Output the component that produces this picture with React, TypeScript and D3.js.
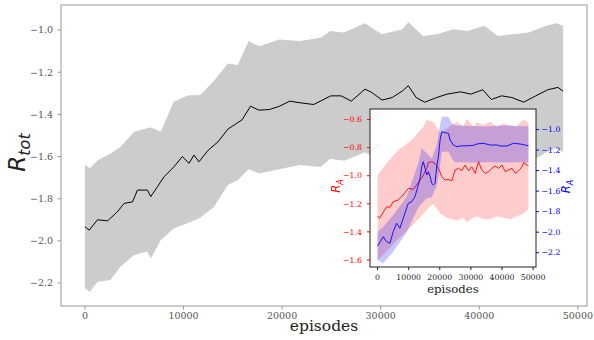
import React from "react";
import * as d3 from "d3";

// ---------- main chart data ----------
const mainEpisodes = [0, 440, 1280, 2300, 3300, 3980, 4830, 5330, 6340, 6680, 7360, 8030, 9040, 9890, 10560, 11060, 11570, 12500, 13500, 14500, 15930, 16800, 17660, 18700, 19750, 20780, 21820, 23210, 24940, 25980, 27020, 28410, 29100, 30140, 31170, 32220, 32800, 33600, 34460, 35680, 36720, 38100, 39150, 40350, 41220, 42260, 43300, 44510, 45730, 46940, 47980, 48500];
const mainMean = [-1.933, -1.949, -1.9, -1.905, -1.862, -1.822, -1.815, -1.759, -1.759, -1.79, -1.743, -1.696, -1.648, -1.6, -1.632, -1.593, -1.625, -1.57, -1.53, -1.47, -1.426, -1.361, -1.38, -1.377, -1.361, -1.337, -1.345, -1.353, -1.312, -1.312, -1.337, -1.28, -1.296, -1.332, -1.32, -1.288, -1.264, -1.32, -1.342, -1.32, -1.304, -1.293, -1.304, -1.283, -1.329, -1.312, -1.32, -1.342, -1.312, -1.283, -1.272, -1.29];

const bandEpisodes = [0, 500, 1300, 2600, 3600, 5000, 6300, 6700, 7700, 9000, 10400, 11700, 13100, 14500, 15500, 16600, 17700, 19700, 21800, 23900, 24900, 26300, 28400, 30100, 32200, 32800, 34300, 35700, 37400, 38800, 40500, 41900, 43300, 45000, 46800, 47800, 48500];
const bandUpper = [-1.64, -1.656, -1.617, -1.585, -1.555, -1.482, -1.466, -1.462, -1.482, -1.34, -1.31, -1.308, -1.24, -1.158, -1.166, -1.052, -1.077, -1.045, -1.052, -1.036, -1.004, -1.012, -0.968, -1.02, -0.996, -0.963, -1.028, -1.02, -0.996, -1.004, -0.98, -1.028, -1.02, -1.012, -0.98, -0.968, -0.98];
const bandLower = [-2.225, -2.241, -2.194, -2.186, -2.123, -2.067, -2.051, -2.083, -1.996, -1.941, -1.917, -1.89, -1.838, -1.735, -1.712, -1.66, -1.68, -1.66, -1.64, -1.65, -1.61, -1.62, -1.58, -1.62, -1.59, -1.56, -1.63, -1.61, -1.59, -1.6, -1.58, -1.62, -1.61, -1.63, -1.58, -1.56, -1.58];

const mainXTicks = [0, 10000, 20000, 30000, 40000, 50000];
const mainYTicks = [-2.2, -2.0, -1.8, -1.6, -1.4, -1.2, -1.0];

// ---------- inset data ----------
const redEpisodes = [0, 600, 1300, 2900, 3970, 5030, 6650, 8260, 9870, 11480, 12580, 13650, 14190, 15260, 15800, 16320, 17420, 18480, 19550, 20650, 21710, 22800, 23870, 24940, 26000, 27100, 28160, 29230, 30300, 31390, 32450, 33500, 34600, 35700, 36770, 37800, 38900, 40000, 41060, 42150, 43230, 44290, 45400, 46450, 46970, 48060, 48500];
const redMean = [-1.287, -1.303, -1.28, -1.221, -1.225, -1.185, -1.173, -1.137, -1.09, -1.097, -1.066, -1.031, -1.018, -0.972, -0.947, -0.907, -0.9, -0.912, -0.947, -1.007, -1.031, -1.026, -1.036, -0.959, -0.947, -0.964, -0.924, -0.964, -0.936, -0.983, -0.9, -0.959, -0.983, -0.972, -0.947, -0.931, -0.947, -0.924, -0.972, -0.959, -0.947, -0.983, -0.964, -0.936, -0.907, -0.924, -0.93];

const redBandEpisodes = [0, 2900, 6650, 10970, 14740, 15800, 17900, 20220, 22300, 25450, 27600, 28700, 30800, 31900, 34100, 36200, 38300, 40500, 42600, 44700, 46800, 48000, 48500];
const redBandUpper = [-0.995, -0.912, -0.817, -0.746, -0.651, -0.604, -0.616, -0.698, -0.663, -0.616, -0.651, -0.592, -0.651, -0.62, -0.639, -0.616, -0.651, -0.63, -0.64, -0.651, -0.6, -0.616, -0.62];
const redBandLower = [-1.6, -1.54, -1.45, -1.36, -1.27, -1.24, -1.2, -1.27, -1.3, -1.32, -1.3, -1.33, -1.3, -1.29, -1.31, -1.31, -1.29, -1.3, -1.31, -1.29, -1.27, -1.25, -1.232];

const blueEpisodes = [0, 900, 1800, 2900, 3970, 5030, 6130, 7190, 8260, 9350, 9870, 10970, 12030, 13100, 13650, 14190, 14710, 15260, 15800, 16320, 16900, 17420, 17950, 18480, 19030, 19550, 20100, 20650, 21710, 22770, 23320, 24390, 25450, 26500, 28700, 30800, 32000, 34060, 36200, 38300, 39400, 41600, 43700, 45900, 48500];
const blueMean = [-2.134, -2.092, -2.044, -2.092, -2.108, -1.995, -1.913, -1.962, -1.865, -1.767, -1.719, -1.703, -1.654, -1.54, -1.475, -1.362, -1.313, -1.378, -1.443, -1.411, -1.46, -1.524, -1.54, -1.524, -1.362, -1.265, -1.102, -1.021, -1.031, -1.037, -1.102, -1.151, -1.167, -1.16, -1.158, -1.155, -1.14, -1.134, -1.151, -1.15, -1.161, -1.16, -1.134, -1.141, -1.158];

const blueBandEpisodes = [0, 1800, 5030, 9350, 13100, 14190, 15800, 17420, 19030, 20100, 20650, 22770, 23870, 24940, 26500, 30000, 35000, 40000, 45000, 48500];
const blueBandUpper = [-1.995, -1.95, -1.833, -1.654, -1.329, -1.183, -1.232, -1.281, -1.15, -0.95, -0.875, -0.875, -0.94, -0.96, -0.96, -0.965, -0.97, -0.96, -0.965, -0.97];
const blueBandLower = [-2.27, -2.303, -2.19, -2.0, -1.76, -1.72, -1.67, -1.66, -1.55, -1.35, -1.216, -1.216, -1.281, -1.32, -1.318, -1.322, -1.318, -1.322, -1.318, -1.322];

const insetXTicks = [0, 10000, 20000, 30000, 40000, 50000];
const insetLeftTicks = [-1.6, -1.4, -1.2, -1.0, -0.8, -0.6];
const insetRightTicks = [-2.2, -2.0, -1.8, -1.6, -1.4, -1.2, -1.0];

const fmt = (v: number) => (v < 0 ? "\u2212" : "") + Math.abs(v).toFixed(1);
const SERIF = "DejaVu Serif";

export default function App() {
  const W = 594, H = 340;
  // main axes
  const mL = 61, mR = 587, mT = 5, mB = 306;
  const x = d3.scaleLinear().domain([-2425, 50925]).range([mL, mR]);
  const y = d3.scaleLinear().domain([-2.309, -0.881]).range([mB, mT]);

  const bandArea = d3.area<number>()
    .x((_, i) => x(bandEpisodes[i]))
    .y0((_, i) => y(bandLower[i]))
    .y1((_, i) => y(bandUpper[i]));
  const meanLine = d3.line<number>()
    .x((_, i) => x(mainEpisodes[i]))
    .y((d) => y(d));

  // inset axes
  const iL = 370, iR = 536, iT = 109, iB = 267;
  const ix = d3.scaleLinear().domain([-2425, 50925]).range([iL, iR]);
  const iyL = d3.scaleLinear().domain([-1.65, -0.525]).range([iB, iT]);
  const iyR = d3.scaleLinear().domain([-2.339, -0.8]).range([iB, iT]);

  const redArea = d3.area<number>()
    .x((_, i) => ix(redBandEpisodes[i]))
    .y0((_, i) => iyL(redBandLower[i]))
    .y1((_, i) => iyL(redBandUpper[i]));
  const redLine = d3.line<number>()
    .x((_, i) => ix(redEpisodes[i]))
    .y((d) => iyL(d));
  const blueArea = d3.area<number>()
    .x((_, i) => ix(blueBandEpisodes[i]))
    .y0((_, i) => iyR(blueBandLower[i]))
    .y1((_, i) => iyR(blueBandUpper[i]));
  const blueLine = d3.line<number>()
    .x((_, i) => ix(blueEpisodes[i]))
    .y((d) => iyR(d));

  const spine = "#999";
  const tickText = "#555";

  return (
    <svg width={W} height={H} style={{ position: "absolute", left: 0, top: 0, background: "#fff" }}>
      <rect x={0} y={0} width={W} height={H} fill="#fff" />
      {/* main band & line */}
      <path d={bandArea(bandUpper) || ""} fill="#cccccc" />
      <path d={meanLine(mainMean) || ""} fill="none" stroke="#000" strokeWidth={1} />
      {/* main frame */}
      <rect x={mL} y={mT} width={mR - mL} height={mB - mT} fill="none" stroke={spine} strokeWidth={1} />
      {mainXTicks.map((t) => (
        <g key={"mx" + t}>
          <line x1={x(t)} x2={x(t)} y1={mB} y2={mB + 3.5} stroke={spine} />
          <text x={x(t)} y={318.5} textAnchor="middle" fontFamily={SERIF} fontSize={9.5} fill={tickText}>{t}</text>
        </g>
      ))}
      {mainYTicks.map((t) => (
        <g key={"my" + t}>
          <line x1={mL - 3.5} x2={mL} y1={y(t)} y2={y(t)} stroke={spine} />
          <text x={53} y={y(t)} dy="0.35em" textAnchor="end" fontFamily={SERIF} fontSize={9.5} fill={tickText}>{fmt(t)}</text>
        </g>
      ))}
      <text x={(mL + mR) / 2} y={331} textAnchor="middle" fontFamily={SERIF} fontSize={15.5} fill="#222">episodes</text>
      <text transform={`translate(25,152.5) rotate(-90)`} textAnchor="middle" fontFamily="DejaVu Sans" fontStyle="italic" fill="#222">
        <tspan fontSize={23}>R</tspan>
        <tspan fontSize={16} dy={4.5}>tot</tspan>
      </text>

      {/* inset */}
      <rect x={iL} y={iT} width={iR - iL} height={iB - iT} fill="#fff" />
      <path d={redArea(redBandUpper) || ""} fill="rgba(255,0,0,0.2)" />
      <path d={redLine(redMean) || ""} fill="none" stroke="#ff0000" strokeWidth={0.9} />
      <path d={blueArea(blueBandUpper) || ""} fill="rgba(0,0,255,0.22)" />
      <path d={blueLine(blueMean) || ""} fill="none" stroke="#0000ff" strokeWidth={0.9} />
      <rect x={iL} y={iT} width={iR - iL} height={iB - iT} fill="none" stroke="#222" strokeWidth={1} />
      {insetXTicks.map((t) => (
        <g key={"ix" + t}>
          <line x1={ix(t)} x2={ix(t)} y1={iB} y2={iB + 3} stroke="#222" />
          <text x={ix(t)} y={279.5} textAnchor="middle" fontFamily={SERIF} fontSize={7.8} fill="#222">{t}</text>
        </g>
      ))}
      {insetLeftTicks.map((t) => (
        <g key={"il" + t}>
          <line x1={iL - 3} x2={iL} y1={iyL(t)} y2={iyL(t)} stroke="#ff0000" />
          <text x={362} y={iyL(t)} dy="0.35em" textAnchor="end" fontFamily={SERIF} fontSize={7.8} fill="#ff0000">{fmt(t)}</text>
        </g>
      ))}
      {insetRightTicks.map((t) => (
        <g key={"ir" + t}>
          <line x1={iR} x2={iR + 3} y1={iyR(t)} y2={iyR(t)} stroke="#0000ff" />
          <text x={541.5} y={iyR(t)} dy="0.35em" textAnchor="start" fontFamily={SERIF} fontSize={7.8} fill="#0000ff">{fmt(t)}</text>
        </g>
      ))}
      <text x={(iL + iR) / 2} y={292.5} textAnchor="middle" fontFamily={SERIF} fontSize={11.7} fill="#222">episodes</text>
      <text transform={`translate(340,186) rotate(-90)`} textAnchor="middle" fontFamily="DejaVu Sans" fontStyle="italic" fill="#ff0000">
        <tspan fontSize={11.5}>R</tspan>
        <tspan fontSize={8} dy={2.5}>A</tspan>
      </text>
      <text transform={`translate(570,186.5) rotate(-90)`} textAnchor="middle" fontFamily="DejaVu Sans" fontStyle="italic" fill="#0000ff">
        <tspan fontSize={11.5}>R</tspan>
        <tspan fontSize={8} dy={2.5}>A</tspan>
      </text>
    </svg>
  );
}
